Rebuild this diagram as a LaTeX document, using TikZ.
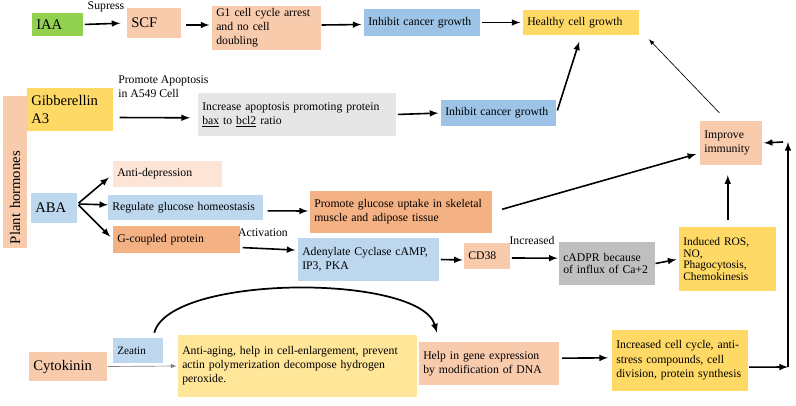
\documentclass[tikz,border=0pt]{standalone}
\usepackage{fontspec}
\setmainfont{Liberation Serif}
\usepackage{amsmath}
\usepackage[dvipsnames]{xcolor}

\begin{document}
\begin{tikzpicture}[x=0.75pt,y=0.75pt,yscale=-1,xscale=1,
  bx/.style={anchor=west, inner xsep=3pt, inner ysep=0pt, align=left, font=\fontsize{8.8}{10.5}\selectfont},
  hormone/.style={font=\fontsize{11}{13.5}\selectfont},
  lab/.style={font=\fontsize{8.8}{10.5}\selectfont, align=left, inner sep=0pt},
  arr/.style={->, >=latex, line width=1.2pt, shorten <=1pt, shorten >=2pt},
  thinarr/.style={->, >=latex, line width=0.5pt},
  leaf/.style={fill={rgb, 255:red, 146; green, 208; blue, 80 }},
  peach/.style={fill={rgb, 255:red, 248; green, 203; blue, 173 }},
  palepeach/.style={fill={rgb, 255:red, 252; green, 228; blue, 214 }},
  orange/.style={fill={rgb, 255:red, 244; green, 177; blue, 131 }},
  sky/.style={fill={rgb, 255:red, 189; green, 215; blue, 238 }},
  deepsky/.style={fill={rgb, 255:red, 157; green, 195; blue, 230 }},
  gold/.style={fill={rgb, 255:red, 255; green, 217; blue, 102 }},
  paleyellow/.style={fill={rgb, 255:red, 255; green, 230; blue, 153 }},
  mist/.style={fill={rgb, 255:red, 231; green, 230; blue, 230 }},
  slate/.style={fill={rgb, 255:red, 191; green, 191; blue, 191 }}
]
\useasboundingbox (0,0) rectangle (796,406);

%Shape: top row
\draw (32,24.5) node [bx, hormone, leaf, text width=32.25pt, minimum height=17.25pt] (iaa) {IAA};
\draw (127,23) node [bx, hormone, peach, text width=34.5pt, minimum height=22.5pt] (scf) {SCF};
\draw (212,28) node [bx, peach, text width=75.75pt, minimum height=33pt] (gone) {G1 cell cycle arrest\\and no cell\\doubling};
\draw (364,22.5) node [bx, deepsky, text width=81pt, minimum height=20.25pt] (inhone) {Inhibit cancer growth};
\draw (523,22.5) node [bx, gold, text width=81pt, minimum height=18.75pt] (healthy) {Healthy cell growth};

%Shape: plant hormones
\draw (15,172) node [bx, hormone, peach, anchor=center, rotate=90, text width=108pt, minimum height=18pt] (plant) {Plant hormones};

%Shape: gibberellin row
\draw (27,109.5) node [bx, hormone, gold, text width=58.5pt, minimum height=32.25pt] (gib) {Gibberellin\\A3};
\draw (198,114.5) node [bx, mist, text width=142.5pt, minimum height=32.25pt] (incr) {Increase apoptosis promoting protein\\\underline{bax} to \underline{bcl2} ratio};
\draw (441,113) node [bx, deepsky, text width=80.25pt, minimum height=19.5pt] (inhtwo) {Inhibit cancer growth};
\draw (700,143) node [bx, peach, text width=40.5pt, minimum height=33pt] (immune) {Improve\\immunity};

%Shape: ABA rows
\draw (31,208) node [bx, hormone, sky, text width=28.5pt, minimum height=22.5pt] (aba) {ABA};
\draw (113,174) node [bx, palepeach, text width=75.75pt, minimum height=19.5pt] (antidep) {Anti-depression};
\draw (108,207.5) node [bx, sky, text width=110.25pt, minimum height=18.75pt] (glucose) {Regulate glucose homeostasis};
\draw (113,239.5) node [bx, orange, text width=89.25pt, minimum height=20.25pt] (gprot) {G-coupled protein};
\draw (310,212) node [bx, orange, text width=130.5pt, minimum height=31.5pt] (uptake) {Promote glucose uptake in skeletal\\muscle and adipose tissue};
\draw (298,259.5) node [bx, sky, text width=99.75pt, minimum height=32.25pt] (cyclase) {Adenylate Cyclase cAMP,\\IP3, PKA};
\draw (464,256) node [bx, peach, text width=28.5pt, minimum height=19.5pt] (cd) {CD38};
\draw (559,263.5) node [bx, slate, text width=66pt, minimum height=32.25pt, font=\fontsize{8.8}{9}\selectfont] (cadpr) {cADPR because\\of influx of Ca+2};
\draw (679,259) node [bx, gold, text width=66.75pt, minimum height=48pt, font=\fontsize{8.6}{8.7}\selectfont] (ros) {Induced ROS,\\NO,\\Phagocytosis,\\Chemokinesis};

%Shape: cytokinin row
\draw (29,366.5) node [bx, hormone, peach, text width=52.5pt, minimum height=21.75pt] (cyto) {Cytokinin};
\draw (113,350.5) node [bx, sky, text width=31.5pt, minimum height=18.75pt, font=\fontsize{8.4}{10}\selectfont] (zeatin) {Zeatin};
\draw (178,366) node [bx, paleyellow, text width=173.25pt, minimum height=46.5pt] (aging) {Anti-aging, help in cell-enlargement, prevent\\actin polymerization decompose hydrogen\\peroxide.\\[3pt]};
\draw (419,363.5) node [bx, peach, text width=99pt, minimum height=32.25pt] (gene) {Help in gene expression\\by modification of DNA};
\draw (612,360.5) node [bx, gold, text width=96pt, minimum height=45.75pt, font=\fontsize{8.8}{10.9}\selectfont] (cycle) {Increased cell cycle, anti-\\stress compounds, cell\\division, protein synthesis};

% Text Node
\draw (106,7) node [lab] (supress) {Supress};
% Text Node
\draw (118,87) node [lab, anchor=west] (apop) {Promote Apoptosis\\in A549 Cell};
% Text Node
\draw (263,233) node [lab] (activ) {Activation};
% Text Node
\draw (532,240) node [lab] (incd) {Increased};

\coordinate (rbot) at (788,367);
\coordinate (rtop) at (788,142);

%Straight Lines
\draw [arr, shorten >=5pt] (iaa.east) -- (scf.west);
\draw [arr, shorten <=3.5pt] ([yshift=1.5pt]scf.east) -- ([yshift=-2.25pt]gone.west);
\draw [arr, shorten <=0pt] ([yshift=-2.25pt]gone.east) -- ([yshift=1.5pt]inhone.west);
\draw [arr] (inhone.east) -- (healthy.west);
\draw [arr, shorten <=4.5pt, shorten >=6pt] ([yshift=6pt]gib.east) -- ([yshift=2.5pt]incr.west);
\draw [arr] (incr.east) -- (inhtwo.west);
\draw [arr, shorten <=2pt, shorten >=5pt] (inhtwo.east) -- (healthy.south);
\draw [thinarr] ([xshift=-9pt,yshift=-6pt]immune.north) -- ([xshift=7pt,yshift=3pt]healthy.south east);
\draw [arr, shorten >=4pt] ([yshift=-3pt]aba.east) -- (antidep.west);
\draw [arr, shorten >=0pt] ([yshift=-3pt]aba.east) -- ([yshift=-2pt]glucose.west);
\draw [arr, shorten >=3pt] ([yshift=-3pt]aba.east) -- (gprot.west);
\draw [arr, shorten <=3pt, shorten >=1.5pt] ([yshift=2.5pt]glucose.east) -- ([yshift=-0.75pt]uptake.west);
\draw [arr, shorten <=7.5pt, shorten >=3pt] (uptake.east) -- ([yshift=7.5pt]immune.west);
\draw [arr, shorten <=1.5pt] ([yshift=6pt]gprot.east) -- ([yshift=-7pt]cyclase.west);
\draw [arr, shorten >=1pt] (cyclase.east) -- ([yshift=3pt]cd.west);
\draw [arr, shorten >=1pt] ([yshift=1.5pt]cd.east) -- ([yshift=-4pt]cadpr.west);
\draw [arr, shorten <=0pt] (cadpr.east) -- (ros.west);
\draw [arr, shorten <=5pt, shorten >=7.5pt] (ros.north) -- (ros.north |- immune.south);
\draw [thinarr, draw={rgb, 255:red, 128; green, 128; blue, 128 }, shorten >=1pt] (cyto.east) -- (aging.west);
\draw [arr, shorten <=2pt, shorten >=3pt] ([yshift=-4pt]gene.east) -- ([yshift=-2pt]cycle.west);
\draw [arr, shorten <=0.5pt, shorten >=0pt] ([yshift=5pt]cycle.east) -- (rbot);
\draw [arr, shorten <=0pt, shorten >=0pt] (rbot) -- (rtop);
\draw [arr, shorten <=0pt, shorten >=1pt] ([xshift=-3.75pt]rtop) -- (immune.east);

%Curve Lines
\draw [->, >=latex, line width=1.3pt] ([xshift=12pt,yshift=-3.75pt]zeatin.north) .. controls +(16,-59) and +(-17,-59) .. ([xshift=13.5pt,yshift=-6.75pt]gene.north west);

\end{tikzpicture}
\end{document}
